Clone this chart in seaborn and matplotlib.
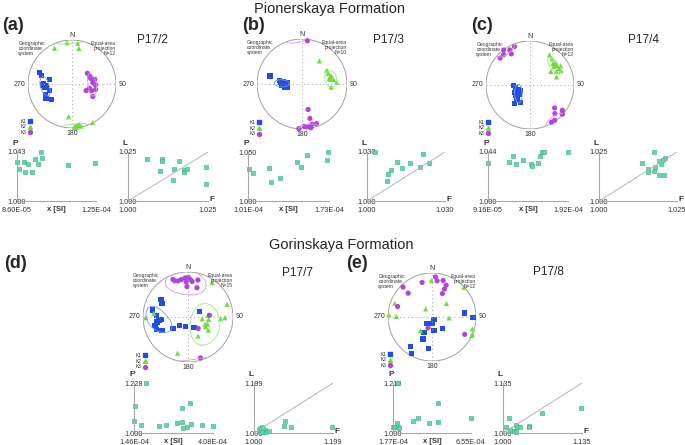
import numpy as np
import pandas as pd
import matplotlib
matplotlib.use("Agg")
import matplotlib.pyplot as plt
from matplotlib.lines import Line2D
from matplotlib.patches import Circle
import seaborn as sns

# ---------------- stereonet data: (declination, inclination) ----------------
a_k1 = [(289, 22.5), (286, 28.5), (281, 46), (268, 33.5), (263, 37), (266, 38.5),
        (262, 41.5), (254, 45), (248, 34.5), (241, 33), (233, 41.5), (270, 35)]
a_k2 = [(334, 10.5), (353, 6), (8, 7), (11, 19), (186, 26), (176, 5),
        (174, 1), (173, 6.5), (170, 8), (168, 2.5), (152, 0.5), (177, 0.5)]
a_k3 = [(55, 55), (65, 54), (73, 53.5), (79, 49), (78.5, 46), (86, 51),
        (92, 45.5), (104, 56.5), (115, 61), (109, 51), (103, 44), (121, 44)]

b_k1 = [(284, 27.5), (278.5, 48), (275, 51), (271, 54.5), (260, 57), (258, 62),
        (274, 64), (266, 52.5), (268, 59.5), (278, 55)]
b_k2 = [(37, 36), (61, 37), (68, 37), (74, 33), (79, 38.5), (81, 35),
        (82, 30), (87, 24), (96, 35), (76.5, 36)]
b_k3 = [(7, 3.5), (166.5, 41.5), (167, 22.5), (177, 6.5), (174, 4.5), (171, 5.5),
        (168.5, 1), (166, 8.5), (160, 7), (184, 0.5)]

c_k1 = [(268, 59), (258, 63), (248, 67), (239, 70), (236, 63.5), (234, 57),
        (226, 58), (223, 52.5), (220, 44.5), (208, 52), (230, 64), (244, 59)]
c_k2 = [(33, 19.5), (40, 23), (47, 29), (49, 25), (52, 32), (54, 26),
        (60, 25.5), (58, 19), (65, 23.5), (63, 33), (57, 43), (73, 37)]
c_k3 = [(323, 0.5), (330, 9), (338, 6.5), (329, 18.5), (319, 9.5), (312, 9.5),
        (133, 24.5), (128, 7.5), (132, 1), (139, 15), (145, 2.5), (150, 2.7)]

d_k1 = [(303, 29), (298, 35), (281, 20.5), (273, 30), (264, 35.5), (264, 40),
        (261, 31), (255, 25), (249, 25.5), (243, 35.5), (232, 55), (227, 68),
        (195, 71.5), (151, 67.5), (65, 67)]
d_k2 = [(35, 7.5), (72, 9.5), (93, 28.5), (91, 19), (84, 53), (96.5, 52),
        (97, 64), (113, 56), (110, 52), (119, 53), (123, 45.5), (152, 50.5),
        (196, 17.5), (269, 6.5), (276, 24.5)]
d_k3 = [(338, 11), (340, 15.5), (350, 16.5), (356, 14), (0.5, 13), (3.5, 17.5),
        (6.5, 21.5), (357, 23), (15, 16), (358, 33), (17, 32.5), (85.5, 50.5),
        (138.5, 62), (163, 5.5), (344.5, 18)]

e_k1 = [(83, 26.5), (91, 7.5), (143.5, 84), (174, 77.5), (217, 74.5), (137, 61.5),
        (172, 64.5), (208, 58), (202, 45), (186.5, 28), (216, 18.5), (209, 5.5)]
e_k2 = [(359, 18), (47, 1), (47, 53), (322, 71), (290, 11), (271, 20),
        (273, 2), (93, 58), (220, 56.5), (106.5, 5), (113, 0.3), (115, 0.5)]
e_k3 = [(5, 9.5), (8, 18), (344, 19.5), (17, 14.5), (24, 22), (24, 31),
        (24, 41.5), (316, 6), (315, 24.5), (287, 19.5), (200, 68.5), (118, 17)]

# confidence ellipses: (mean dec, mean inc, semi-angle a, semi-angle b, rotation)
a_ell = {'K1': (265, 38, 17, 9, -17), 'K2': (176, 0.5, 17, 9, 0), 'K3': (92, 52, 20, 8, -12)}
b_ell = {'K1': (272, 53, 6, 14.5, 0), 'K2': (80, 35, 13, 12, 0), 'K3': (172, 1, 12.5, 9, 0)}
c_ell = {'K1': (233, 63, 17, 7, 37), 'K2': (52, 30, 15, 9, 0), 'K3': (325, 1, 14, 13, 0)}
d_ell = {'K1': (264, 33, 29, 17, -54), 'K2': (114, 55, 37, 28, -24), 'K3': (357, 22, 32, 26, 28)}
e_ell = {}

# ---------------- scalar data: susceptibility, P, F, L ----------------
a_k = [8.60e-5, 8.68e-5, 8.93e-5, 9.01e-5, 9.12e-5, 9.36e-5, 9.49e-5, 9.66e-5,
       9.77e-5, 9.84e-5, 1.112e-4, 1.245e-4]
a_p = [1.0345, 1.0280, 1.0345, 1.0257, 1.0323, 1.0257, 1.0365, 1.0325,
       1.0430, 1.0373, 1.0317, 1.0334]
a_f = [1.0060, 1.0106, 1.0106, 1.0099, 1.0143, 1.0141, 1.0158, 1.0175,
       1.0175, 1.0185, 1.0245, 1.0245]
a_l = [1.0212, 1.0212, 1.0204, 1.0155, 1.0165, 1.0107, 1.0202, 1.0156,
       1.0148, 1.0165, 1.0171, 1.0089]

b_k = [1.019e-4, 1.055e-4, 1.199e-4, 1.214e-4, 1.298e-4, 1.445e-4, 1.484e-4,
       1.538e-4, 1.715e-4, 1.724e-4]
b_p = [1.0326, 1.0283, 1.0336, 1.0194, 1.0237, 1.0395, 1.0345, 1.0474, 1.0418, 1.0500]
b_f = [1.0032, 1.0077, 1.0079, 1.0093, 1.0115, 1.0134, 1.0166, 1.0204, 1.0217, 1.0240]
b_l = [1.0300, 1.0120, 1.0168, 1.0190, 1.0237, 1.0203, 1.0231, 1.0211, 1.0288, 1.0235]

c_k = [9.16e-5, 1.182e-4, 1.232e-4, 1.262e-4, 1.351e-4, 1.456e-4, 1.473e-4,
       1.549e-4, 1.570e-4, 1.591e-4, 1.625e-4, 1.916e-4]
c_p = [1.0339, 1.0347, 1.0400, 1.0330, 1.0368, 1.0333, 1.0316, 1.0339,
       1.0405, 1.0440, 1.0440, 1.0440]
c_f = [1.0137, 1.0156, 1.0156, 1.0175, 1.0178, 1.0177, 1.0191, 1.0193,
       1.0199, 1.0208, 1.0210, 1.0204]
c_l = [1.0192, 1.0165, 1.0148, 1.0250, 1.0176, 1.0155, 1.0202, 1.0132,
       1.0189, 1.0132, 1.0217, 1.0209]

d_k = [1.46e-4, 1.493e-4, 1.681e-4, 1.869e-4, 2.278e-4, 2.521e-4, 2.886e-4, 3.041e-4,
       3.052e-4, 3.074e-4, 3.229e-4, 3.328e-4, 3.361e-4, 3.715e-4, 4.08e-4]
d_p = [1.0544, 1.1221, 1.0353, 1.2280, 1.0309, 1.0368, 1.0456, 1.1133,
       1.0485, 1.0250, 1.0294, 1.1353, 1.0397, 1.0368, 1.0309]
d_f = [1.0127, 1.0161, 1.0195, 1.0212, 1.0246, 1.0280, 1.0313, 1.0381,
       1.0178, 1.0229, 1.0779, 1.0762, 1.0923, 1.1965, 1.0195]
d_l = [1.0128, 1.0180, 1.0231, 1.0077, 1.0039, 1.0103, 1.0051, 1.0064,
       1.0103, 1.0141, 1.0475, 1.0282, 1.0244, 1.0231, 1.0026]

e_k = [1.77e-4, 1.811e-4, 2.015e-4, 2.056e-4, 2.158e-4, 2.056e-4, 2.996e-4,
       3.282e-4, 3.997e-4, 4.528e-4, 4.528e-4, 6.55e-4]
e_p = [1.0246, 1.0246, 1.0410, 1.0274, 1.0205, 1.2120, 1.0492, 1.0629,
       1.0438, 1.1286, 1.0479, 1.0629]
e_f = [1.0103, 1.0057, 1.0114, 1.0188, 1.0216, 1.0216, 1.0239, 1.0285,
       1.0439, 1.0444, 1.0672, 1.1339]
e_l = [1.0392, 1.0157, 1.0087, 1.0044, 1.0026, 1.0218, 1.0157, 1.0157,
       1.0192, 1.0157, 1.0549, 1.0679]

# axis extents printed on the plots
a_kr, a_pmax, a_lfmax = (8.60e-5, 1.25e-4), 1.043, 1.025
b_kr, b_pmax, b_lfmax = (1.01e-4, 1.73e-4), 1.050, 1.030
c_kr, c_pmax, c_lfmax = (9.16e-5, 1.92e-4), 1.044, 1.025
d_kr, d_pmax, d_lfmax = (1.46e-4, 4.08e-4), 1.228, 1.199
e_kr, e_pmax, e_lfmax = (1.77e-4, 6.55e-4), 1.212, 1.135

# ---------------- style ----------------
W, H = 685, 445
sns.set_style("white")
plt.rcParams['font.family'] = ['Liberation Sans', 'DejaVu Sans']

PAL = {'K1': '#1f4fe0', 'K2': '#6fdc3a', 'K3': '#b044dc'}
ELL = {'K1': '#7b97ea', 'K2': '#9be58a', 'K3': '#d79ae9'}
MARK = {'K1': 's', 'K2': '^', 'K3': 'o'}
AXC = '#a8a8a8'
PT = '#62d6a6'
PT_EDGE = '#36b07f'
TXT = '#333333'

fig = plt.figure(figsize=(W / 100, H / 100), dpi=100)


def px_axes(x0, y0, x1, y1):
    return fig.add_axes([x0 / W, 1 - y1 / H, (x1 - x0) / W, (y1 - y0) / H])


def project(dec, inc):
    dec = np.radians(np.asarray(dec, float))
    inc = np.radians(np.asarray(inc, float))
    rho = np.sqrt(2) * np.sin((np.pi / 2 - inc) / 2)
    return rho * np.sin(dec), rho * np.cos(dec)


def ellipse_segments(dec, inc, a, b, rot, n=240):
    d, i, ro = np.radians([dec, inc, rot])
    m = np.array([np.cos(i) * np.cos(d), np.cos(i) * np.sin(d), np.sin(i)])
    e_dec = np.array([-np.sin(d), np.cos(d), 0.0])
    e_inc = np.array([-np.sin(i) * np.cos(d), -np.sin(i) * np.sin(d), np.cos(i)])
    w1 = np.cos(ro) * e_dec + np.sin(ro) * e_inc
    w2 = -np.sin(ro) * e_dec + np.cos(ro) * e_inc
    t = np.linspace(0, 2 * np.pi, n)
    v = (m[None, :] + np.tan(np.radians(a)) * np.cos(t)[:, None] * w1
         + np.tan(np.radians(b)) * np.sin(t)[:, None] * w2)
    v /= np.linalg.norm(v, axis=1)[:, None]
    v[v[:, 2] < 0] *= -1
    x, y = project(np.degrees(np.arctan2(v[:, 1], v[:, 0])),
                   np.degrees(np.arcsin(np.clip(v[:, 2], -1, 1))))
    jumps = np.where(np.hypot(np.diff(x), np.diff(y)) > 0.4)[0] + 1
    return [(xs, ys) for xs, ys in zip(np.split(x, jumps), np.split(y, jumps))]


def stereonet(cx, cy, r, k1, k2, k3, ells, n):
    ax = px_axes(cx - r, cy - r, cx + r, cy + r)
    ax.set_xlim(-1, 1)
    ax.set_ylim(-1, 1)
    ax.set_aspect('equal')
    ax.axis('off')
    ax.add_patch(Circle((0, 0), 1, fill=False, ec='#a0a0a0', lw=0.7))
    ax.plot([-1, 1], [0, 0], color='#a0a0a0', lw=0.7, ls=(0, (1, 3)))
    ax.plot([0, 0], [-1, 1], color='#a0a0a0', lw=0.7, ls=(0, (1, 3)))

    for key, e in ells.items():
        for xs, ys in ellipse_segments(*e):
            ax.plot(xs, ys, color=ELL[key], lw=0.6)

    rows = []
    for key, pts in (('K1', k1), ('K2', k2), ('K3', k3)):
        x, y = project([p[0] for p in pts], [p[1] for p in pts])
        rows += [(xi, yi, key) for xi, yi in zip(x, y)]
    df = pd.DataFrame(rows, columns=['x', 'y', 'axis'])
    sns.scatterplot(data=df, x='x', y='y', hue='axis', style='axis', palette=PAL,
                    markers=MARK, s=14, linewidth=0, legend=False, ax=ax, clip_on=False)
    ax.set_xlabel('')
    ax.set_ylabel('')

    fs = 5
    ax.text(0, 1.03, 'N', ha='center', va='bottom', fontsize=fs, color=TXT)
    ax.text(1.05, 0, '90', ha='left', va='center', fontsize=fs, color=TXT)
    ax.text(0, -1.04, '180', ha='center', va='top', fontsize=fs, color=TXT)
    ax.text(-1.05, 0, '270', ha='right', va='center', fontsize=fs, color=TXT)
    ax.text(-1.22, 0.97, 'Geographic\ncoordinate\nsystem', ha='left', va='top',
            fontsize=3.6, linespacing=1.0, color=TXT)
    ax.text(1.0, 0.97, 'Equal-area\nprojection\nN=%d' % n, ha='right', va='top',
            fontsize=3.6, linespacing=1.0, color=TXT)
    handles = [Line2D([], [], ls='none', marker=MARK[k], color=PAL[k], markersize=2.8)
               for k in PAL]
    ax.legend(handles, list(PAL), loc='lower left', bbox_to_anchor=(-0.08, -0.08),
              frameon=False, markerfirst=False, fontsize=3.4, handlelength=0.6,
              handletextpad=0.3, labelspacing=0.12, borderpad=0, borderaxespad=0)


def base_axes(ax, xlo, xhi, yhi, xfmt):
    ax.set_xlim(xlo, xhi)
    ax.set_ylim(1.0, yhi)
    for s in ('top', 'right'):
        ax.spines[s].set_visible(False)
    for s in ('left', 'bottom'):
        ax.spines[s].set_color(AXC)
        ax.spines[s].set_linewidth(0.8)
    ax.set_xticks([xlo, xhi])
    ax.set_xticklabels([xfmt.format(xlo), xfmt.format(xhi)])
    ax.set_yticks([1.0, yhi])
    ax.set_yticklabels(['{:.3f}'.format(1.0), '{:.3f}'.format(yhi)])
    ax.tick_params(axis='x', length=0, labelsize=5.3, pad=4.2, colors=TXT)
    ax.tick_params(axis='y', length=0, labelsize=5.3, pad=0, colors=TXT)
    for lab in ax.get_yticklabels():
        lab.set_horizontalalignment('center')
        lab.set_bbox(dict(fc='white', ec='none', pad=0.15))
    ax.set_xlabel('')
    ax.set_ylabel('')


def pk_panel(box, k, p, krange, pmax):
    ax = px_axes(*box)
    sns.scatterplot(x=k, y=p, marker='s', color=PT, edgecolor=PT_EDGE, linewidth=0.4,
                    s=9, ax=ax, clip_on=False)
    base_axes(ax, krange[0], krange[1], pmax, '{:.2E}')
    ax.text(-0.02, 1.1, 'P', transform=ax.transAxes, ha='center', va='bottom',
            fontsize=6, fontweight='bold', color=TXT)
    ax.text(0.5, -0.1, 'x [SI]', transform=ax.transAxes, ha='center', va='top',
            fontsize=5.5, fontweight='bold', color=TXT)


def lf_panel(box, f, l, lfmax):
    ax = px_axes(*box)
    ax.plot([1.0, lfmax], [1.0, lfmax], color='#b5b5b5', lw=0.7)
    sns.scatterplot(x=f, y=l, marker='s', color=PT, edgecolor=PT_EDGE, linewidth=0.4,
                    s=9, ax=ax, clip_on=False)
    base_axes(ax, 1.0, lfmax, lfmax, '{:.3f}')
    ax.text(-0.04, 1.1, 'L', transform=ax.transAxes, ha='center', va='bottom',
            fontsize=6, fontweight='bold', color=TXT)
    ax.text(1.02, 0.03, 'F', transform=ax.transAxes, ha='left', va='center',
            fontsize=6, fontweight='bold', color=TXT)


# ---------------- layout ----------------
fig.text(330 / W, 1 - 9 / H, 'Pionerskaya Formation', ha='center', va='center', fontsize=10.5)
fig.text(341 / W, 1 - 245 / H, 'Gorinskaya Formation', ha='center', va='center', fontsize=10.5)

for lab, x, y in (('(a)', 2, 25), ('(b)', 242, 25), ('(c)', 471, 25),
                  ('(d)', 4, 263), ('(e)', 346, 263)):
    fig.text(x / W, 1 - y / H, lab, ha='left', va='center', fontsize=13, fontweight='bold')

for lab, x, y in (('P17/2', 137, 40), ('P17/3', 373, 40), ('P17/4', 628, 40),
                  ('P17/7', 282, 273), ('P17/8', 533, 272)):
    fig.text(x / W, 1 - y / H, lab, ha='left', va='center', fontsize=8.5)

stereonet(72, 84, 44, a_k1, a_k2, a_k3, a_ell, 12)
stereonet(302, 84, 45, b_k1, b_k2, b_k3, b_ell, 10)
stereonet(530, 85, 44, c_k1, c_k2, c_k3, c_ell, 12)
stereonet(188, 317, 45, d_k1, d_k2, d_k3, d_ell, 15)
stereonet(432, 317, 44, e_k1, e_k2, e_k3, e_ell, 12)

pk_panel((17, 152, 96, 201), a_k, a_p, a_kr, a_pmax)
lf_panel((128, 152, 208, 201), a_f, a_l, a_lfmax)
pk_panel((248, 152, 329, 201), b_k, b_p, b_kr, b_pmax)
lf_panel((367, 152, 445, 201), b_f, b_l, b_lfmax)
pk_panel((488, 152, 568, 201), c_k, c_p, c_kr, c_pmax)
lf_panel((599, 152, 677, 201), c_f, c_l, c_lfmax)
pk_panel((134, 383, 213, 433), d_k, d_p, d_kr, d_pmax)
lf_panel((254, 383, 333, 433), d_f, d_l, d_lfmax)
pk_panel((393, 383, 471, 433), e_k, e_p, e_kr, e_pmax)
lf_panel((503, 383, 582, 433), e_f, e_l, e_lfmax)

fig.savefig('out.png', dpi=100)
